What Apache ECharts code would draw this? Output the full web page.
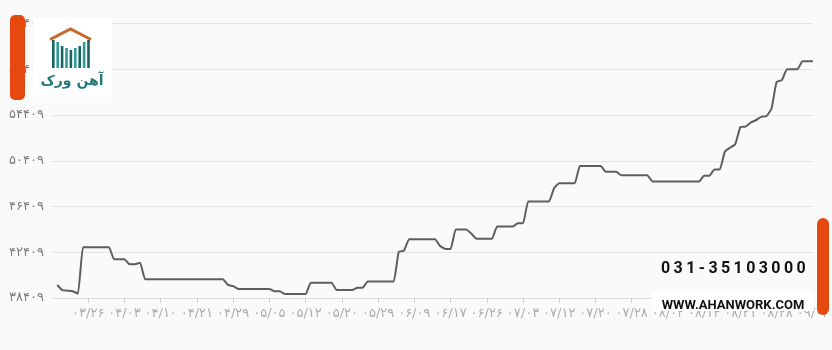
<!DOCTYPE html>
<html>
<head>
<meta charset="utf-8">
<script src="https://cdn.jsdelivr.net/npm/echarts@6/dist/echarts.min.js"></script>
<style>
  html, body { margin: 0; padding: 0; background: #fafafa; }
  #wrap { position: relative; width: 832px; height: 350px; }
  #main { width: 832px; height: 350px; }
  .phone {
    position: absolute; left: 661px; top: 259px;
    font: bold 16px Roboto, sans-serif; letter-spacing: 3.4px; color: #111;
    line-height: 18px; white-space: nowrap;
  }
</style>
</head>
<body>
<div id="wrap">
  <div id="main"></div>
  <div class="phone">031-35103000</div>
</div>
<script>
// tick labels shown every 7 trading days (Persian calendar, month/day)
const tickLabels = ['۰۳/۲۶', '۰۴/۰۳', '۰۴/۱۰', '۰۴/۲۱', '۰۴/۲۹', '۰۵/۰۵', '۰۵/۱۲',
  '۰۵/۲۰', '۰۵/۲۹', '۰۶/۰۹', '۰۶/۱۷', '۰۶/۲۶', '۰۷/۰۳', '۰۷/۱۲', '۰۷/۲۰',
  '۰۷/۲۸', '۰۸/۰۲', '۰۸/۱۴', '۰۸/۲۱', '۰۸/۲۸', '۰۹/۰۴'];
const labelStep = 7;

// price per trading day
const prices = ['-',
  39550, 39100, 39050, 39000, 38800,
  42850, 42850, 42850, 42850, 42850, 42850,
  41800, 41800, 41800, 41350, 41350, 41500,
  40050, 40050, 40050, 40050, 40050, 40050, 40050, 40050,
  40050, 40050, 40050, 40050, 40050, 40050, 40050, 40050,
  39550, 39450,
  39200, 39200, 39200, 39200, 39200, 39200, 39200,
  39000, 39000,
  38750, 38750, 38750, 38750, 38750,
  39750, 39750, 39750, 39750, 39750,
  39100, 39100, 39100, 39100, 39300, 39300,
  39850, 39850, 39850, 39850, 39850, 39850,
  42450, 42550,
  43550, 43550, 43550, 43550, 43550, 43550,
  42950, 42700, 42700,
  44400, 44400, 44400, 44050,
  43600, 43600, 43600, 43600,
  44650, 44650, 44650, 44650, 44950, 44950,
  46850, 46850, 46850, 46850, 46850,
  48000, 48450, 48450, 48450, 48450,
  49950, 49950, 49950, 49950, 49950,
  49450, 49450, 49450,
  49150, 49150, 49150, 49150, 49150, 49150,
  48600, 48600, 48600, 48600, 48600, 48600, 48600, 48600, 48600, 48600,
  49100, 49100, 49650, 49650,
  51200, 51550, 51850, 53350, 53400, 53750, 53950, 54250, 54300, 54950,
  57300, 57450, 58400, 58400, 58400, 59100, 59100, 59100];

const yMin = 38409, yMax = 62409, yStep = 4000;

const categories = prices.map((v, i) =>
  (i > 0 && i % labelStep === 0) ? tickLabels[i / labelStep - 1] : '');

const faDigits = '۰۱۲۳۴۵۶۷۸۹';
function toFa(n) {
  return String(n).replace(/\d/g, d => faDigits[d]);
}
const showIdx = (i) => i > 0 && i % labelStep === 0;

// building logo bars
const logoBars = [];
const barH = [28, 26, 22, 20, 18, 20, 22, 26, 28];
for (let k = 0; k < 9; k++) {
  logoBars.push({
    type: 'rect', z: 100,
    shape: { x: 52 + k * 4.4, y: 68 - barH[k], width: 2.6, height: barH[k] },
    style: { fill: k % 2 ? '#2b9c98' : '#176563' }
  });
}

let myChart = echarts.init(document.getElementById('main'));
let option = {
  backgroundColor: '#fafafa',
  animation: false,
  grid: { left: 52, right: 0, top: 23.5, bottom: 52 },
  xAxis: {
    type: 'category',
    data: categories,
    boundaryGap: false,
    axisLine: { lineStyle: { color: '#dcdcdc' } },
    axisTick: { interval: showIdx, length: 5, lineStyle: { color: '#cfcfcf' } },
    axisLabel: {
      interval: showIdx, color: '#acacac', fontSize: 13, margin: 9,
      fontFamily: 'DejaVu Sans'
    },
    splitLine: { show: false }
  },
  yAxis: {
    type: 'value',
    min: yMin,
    max: yMax,
    interval: yStep,
    axisLine: { show: false },
    axisTick: { show: false },
    splitLine: { lineStyle: { color: '#e4e4e4' } },
    axisLabel: {
      formatter: toFa, color: '#7d7d7d', fontSize: 13, margin: 8,
      fontFamily: 'DejaVu Sans'
    }
  },
  series: [{
    type: 'line',
    data: prices,
    showSymbol: false,
    smooth: 0.15,
    lineStyle: { color: '#5e5e5e', width: 2 }
  }],
  graphic: [
    { type: 'rect', z: 100, shape: { x: 10, y: 15, width: 15, height: 85, r: 5 },
      style: { fill: '#e5490f' } },
    { type: 'rect', z: 100, shape: { x: 33, y: 18, width: 79, height: 79 },
      style: { fill: '#ffffff' } },
    { type: 'polyline', z: 100, shape: { points: [[50, 39.5], [70.5, 29], [91, 39.5]] },
      style: { stroke: '#c8692c', lineWidth: 3, fill: null } },
    ...logoBars,
    { type: 'text', z: 100, x: 72, y: 81,
      style: { text: 'آهن ورک', fill: '#1f7a78', font: 'bold 14px "DejaVu Sans"',
        align: 'center', verticalAlign: 'middle' } },
    { type: 'rect', z: 100, shape: { x: 652, y: 291, width: 162, height: 20 },
      style: { fill: '#ffffff' } },
    { type: 'text', z: 100, x: 733, y: 306,
      style: { text: 'WWW.AHANWORK.COM', fill: '#111', font: 'bold 13px Roboto',
        align: 'center', verticalAlign: 'middle' } },
    { type: 'rect', z: 100, shape: { x: 817, y: 218, width: 12, height: 97, r: 6 },
      style: { fill: '#e5490f' } }
  ]
};
myChart.setOption(option);
</script>
</body>
</html>
